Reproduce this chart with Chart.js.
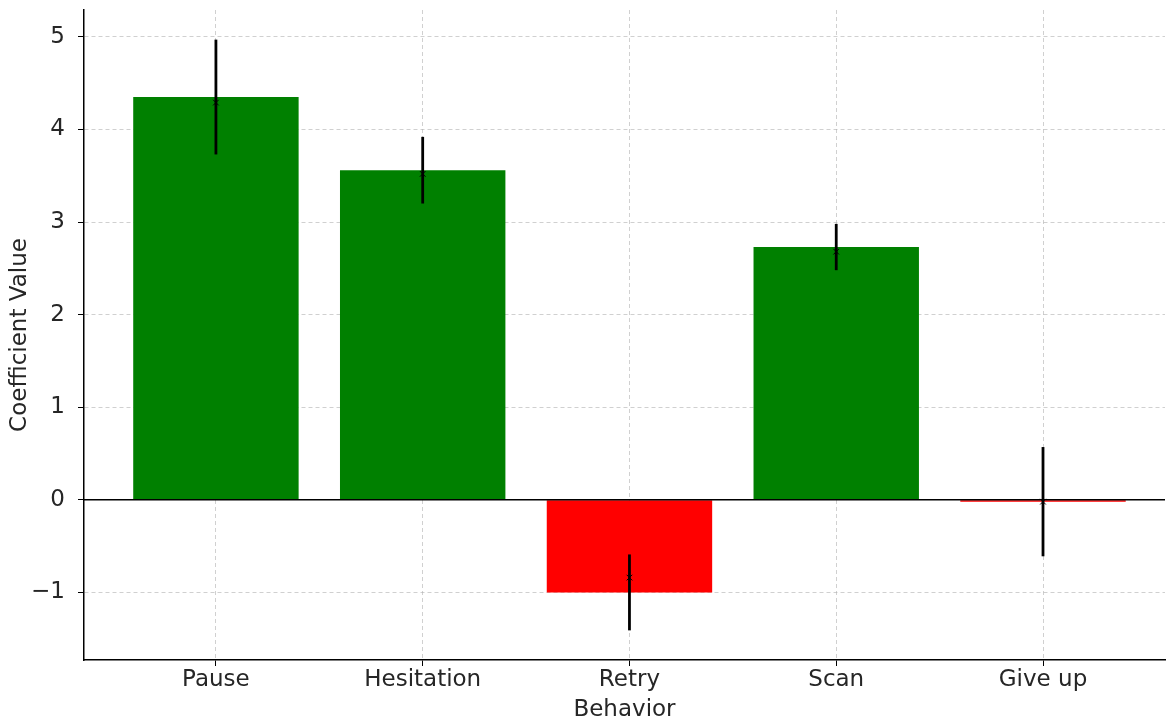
<!DOCTYPE html>
<html>
<head>
<meta charset="utf-8">
<script src="https://cdn.jsdelivr.net/npm/chart.js@4.4.0/dist/chart.umd.min.js"></script>
<style>
  html, body { margin: 0; padding: 0; background: #fff; overflow: hidden; }
  #wrap { width: 1170px; height: 720px; }
</style>
</head>
<body>
<div id="wrap"><canvas id="chart"></canvas></div>
<script>
// data
const behaviors = ["Pause", "Hesitation", "Retry", "Scan", "Give up"];
const coefficients = [4.35, 3.56, -1.0, 2.73, -0.02];
const errors = [0.62, 0.36, 0.41, 0.25, 0.59];
const estimates = [4.29, 3.52, -0.84, 2.68, -0.02];
const yTicks = [-1, 0, 1, 2, 3, 4, 5];

const textColor = "#262626";
const gridColor = "rgba(176,176,176,0.6)";
const font = { family: "DejaVu Sans", size: 23 };

// error bars + zero line drawn on top
const errorBars = {
    id: "errorBars",
    afterDraw(chart) {
        const ctx = chart.ctx;
        const x = chart.scales.x, y = chart.scales.y;
        const area = chart.chartArea;
        ctx.save();
        ctx.strokeStyle = "#000";
        ctx.lineWidth = 1.5;
        ctx.beginPath();
        ctx.moveTo(area.left, y.getPixelForValue(0));
        ctx.lineTo(area.right, y.getPixelForValue(0));
        ctx.stroke();
        ctx.lineWidth = 2.8;
        coefficients.forEach((v, i) => {
            const px = x.getPixelForValue(i);
            ctx.beginPath();
            ctx.moveTo(px, y.getPixelForValue(v + errors[i]));
            ctx.lineTo(px, y.getPixelForValue(v - errors[i]));
            ctx.stroke();
        });
        ctx.restore();
    }
};

new Chart(document.getElementById("chart"), {
    type: "bar",
    data: {
        datasets: [{
            type: "scatter",
            data: estimates.map((v, i) => ({ x: i, y: v })),
            pointStyle: "crossRot",
            pointRadius: 4,
            borderColor: "#000",
            borderWidth: 1,
            order: 0
        }, {
            data: coefficients.map((v, i) => ({ x: i, y: v })),
            backgroundColor: coefficients.map(v => v >= 0 ? "#008000" : "#ff0000"),
            borderWidth: 0,
            categoryPercentage: 0.8,
            barPercentage: 1,
            order: 1
        }]
    },
    options: {
        responsive: true,
        maintainAspectRatio: false,
        animation: false,
        layout: { padding: { top: 10, right: 0, left: 0, bottom: 0 } },
        plugins: {
            legend: { display: false },
            tooltip: { enabled: false }
        },
        scales: {
            x: {
                type: "linear",
                min: -0.638,
                max: 4.59,
                offset: false,
                z: 1,
                afterBuildTicks: axis => { axis.ticks = behaviors.map((_, i) => ({ value: i })); },
                afterFit: axis => { axis.height = 60; axis.paddingLeft = 0; axis.paddingRight = 0; },
                ticks: {
                    callback: v => behaviors[v],
                    color: textColor,
                    font: font,
                    padding: 0,
                    maxRotation: 0,
                    autoSkip: false
                },
                grid: {
                    offset: false,
                    color: gridColor,
                    lineWidth: 1,
                    tickLength: 6,
                    tickColor: "#000",
                    tickBorderDash: []
                },
                border: { display: true, color: "#000", width: 1.5, dash: [4, 3] },
                title: {
                    display: true,
                    text: "Behavior",
                    color: textColor,
                    font: font,
                    padding: { top: 0, bottom: -4 }
                }
            },
            y: {
                min: -1.73,
                max: 5.29,
                z: 1,
                afterBuildTicks: axis => { axis.ticks = yTicks.map(v => ({ value: v })); },
                afterFit: axis => { axis.width = 84; axis.paddingTop = 0; axis.paddingBottom = 0; },
                ticks: {
                    callback: v => v < 0 ? "\u2212" + Math.abs(v) : String(v),
                    color: textColor,
                    font: font,
                    padding: 13
                },
                grid: {
                    color: gridColor,
                    lineWidth: 1,
                    tickLength: 6,
                    tickColor: "#000",
                    tickBorderDash: []
                },
                border: { display: true, color: "#000", width: 1.5, dash: [4, 3] },
                title: {
                    display: true,
                    text: "Coefficient Value",
                    color: textColor,
                    font: font,
                    padding: { top: 6, bottom: 0 }
                }
            }
        }
    },
    plugins: [errorBars]
});
</script>
</body>
</html>
